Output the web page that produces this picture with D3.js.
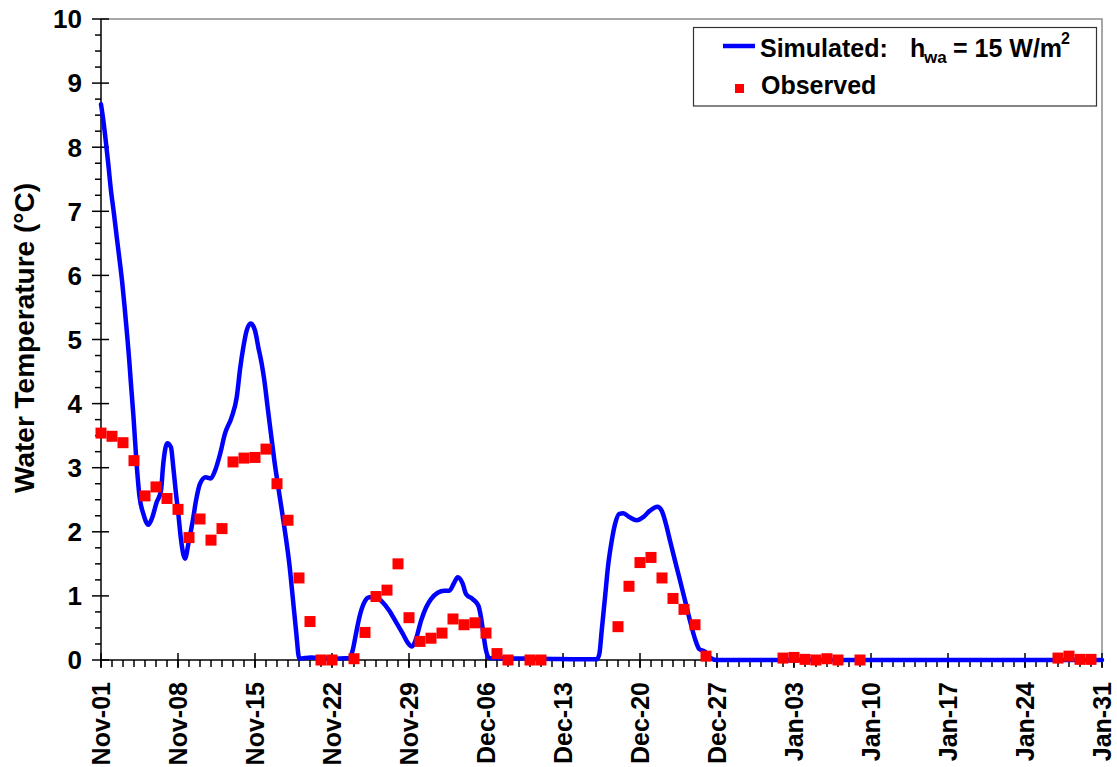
<!DOCTYPE html>
<html>
<head>
<meta charset="utf-8">
<script src="https://cdn.jsdelivr.net/npm/d3@7/dist/d3.min.js"></script>
<style>
  html, body { margin: 0; padding: 0; background: #fff; }
  svg text { font-family: "Liberation Sans", Arial, Helvetica, sans-serif; font-weight: bold; fill: #000; }
</style>
</head>
<body>
<svg id="chart" width="1117" height="767"></svg>
<script>
// Day offsets are counted from Nov-01.
const tickLabels = ["Nov-01","Nov-08","Nov-15","Nov-22","Nov-29","Dec-06","Dec-13",
                    "Dec-20","Dec-27","Jan-03","Jan-10","Jan-17","Jan-24","Jan-31"];
const yTickValues = [0,1,2,3,4,5,6,7,8,9,10];

// Simulated water temperature (h_wa = 15 W/m2)
const simDay = [0,0.21,0.36,0.66,0.91,1.18,1.43,1.66,1.91,2.15,2.39,2.57,2.70,2.95,3.20,3.50,3.85,4.30,4.61,
  5.06,5.45,5.66,6.02,6.36,6.57,6.82,7.03,7.25,7.64,7.94,8.34,8.64,9.00,9.52,9.97,10.36,10.82,11.27,11.88,
  12.34,12.65,12.94,13.24,13.61,14.00,14.30,14.61,14.85,15.15,15.45,15.76,16.21,16.67,17.12,17.43,17.73,18.03,19.09,20.90,
  22.57,22.88,23.18,23.48,23.94,24.39,25.00,25.61,26.21,26.82,27.43,27.88,28.27,28.64,29.09,29.55,30.00,30.61,31.21,31.67,
  32.06,32.43,32.88,33.18,33.79,34.30,34.55,34.76,35.00,35.30,40.00,45.06,45.30,45.52,45.82,46.12,46.43,46.73,47.12,47.48,
  48.03,48.70,49.30,49.91,50.58,50.97,51.36,51.73,52.18,52.64,53.09,53.55,54.00,54.39,54.91,55.36,55.97,91];
const simTemp = [8.67,8.42,8.21,7.74,7.32,6.96,6.60,6.28,5.92,5.50,5.04,4.67,4.36,3.80,3.15,2.55,2.28,2.11,2.20,
  2.46,2.64,3.06,3.38,3.32,3.01,2.59,2.28,1.91,1.58,1.81,2.17,2.49,2.75,2.85,2.83,2.95,3.21,3.53,3.79,
  4.10,4.55,4.88,5.14,5.25,5.14,4.88,4.62,4.36,3.94,3.53,3.11,2.59,2.07,1.50,0.98,0.46,0.02,0.04,0.02,
  0.03,0.15,0.41,0.66,0.90,0.98,0.97,0.90,0.77,0.59,0.41,0.27,0.21,0.33,0.61,0.82,0.95,1.05,1.08,1.08,
  1.19,1.29,1.19,1.03,0.95,0.85,0.66,0.41,0.15,0.03,0.02,0.01,0.09,0.46,0.98,1.50,1.86,2.12,2.28,2.29,
  2.23,2.18,2.23,2.33,2.39,2.33,2.12,1.86,1.55,1.24,0.93,0.61,0.33,0.17,0.13,0.04,0.00,0.00];

// Observed water temperature
const obsDay = [0,1,2,3,4,5,6,7,8,9,10,11,12,13,14,15,16,17,18,19,20,21,23,24,25,26,27,28,29,30,
  31,32,33,34,35,36,37,39,40,47,48,49,50,51,52,53,54,55,62,63,64,65,66,67,69,87,88,89,90];
const obsTemp = [3.54,3.49,3.39,3.11,2.56,2.70,2.52,2.35,1.91,2.20,1.87,2.05,3.09,3.15,3.16,3.29,2.75,2.18,1.28,0.60,
  0,0,0.02,0.43,0.99,1.09,1.50,0.66,0.29,0.34,0.42,0.64,0.55,0.58,0.42,0.10,0,0,0,
  0.52,1.15,1.52,1.60,1.28,0.96,0.79,0.55,0.06,0.03,0.04,0.01,0,0.02,0,0,0.03,0.06,0.01,0.01];

const svg = d3.select("#chart");
const plotL = 101, plotR = 1102, plotT = 19, plotB = 660;

const x = d3.scaleLinear().domain([0, 91]).range([plotL, plotR]);
const y = d3.scaleLinear().domain([0, 10]).range([plotB, plotT]);

// Plot-area frame (top and right edges)
svg.append("path")
  .attr("d", `M${plotL},${plotT}H${plotR}V${plotB}`)
  .attr("fill", "none").attr("stroke", "#8c8c8c").attr("stroke-width", 1.5);

// Y axis: major ticks cross the axis, minor ticks every 0.25 outside
const yAxis = svg.append("g");
yAxis.append("line").attr("x1", plotL).attr("x2", plotL).attr("y1", plotT).attr("y2", plotB)
  .attr("stroke", "#000").attr("stroke-width", 1.5);
const yMinor = d3.range(0, 10.001, 0.25).filter(v => Math.abs(v - Math.round(v)) > 1e-6);
yAxis.selectAll("line.minor").data(yMinor).join("line").attr("class", "minor")
  .attr("x1", plotL - 6).attr("x2", plotL).attr("y1", d => y(d)).attr("y2", d => y(d))
  .attr("stroke", "#000").attr("stroke-width", 1.5);
yAxis.selectAll("line.major").data(yTickValues).join("line").attr("class", "major")
  .attr("x1", plotL - 9).attr("x2", plotL + 8).attr("y1", d => y(d)).attr("y2", d => y(d))
  .attr("stroke", "#000").attr("stroke-width", 1.5);
yAxis.selectAll("text").data(yTickValues).join("text")
  .attr("x", 82).attr("y", d => y(d)).attr("dy", "0.36em")
  .attr("text-anchor", "end").attr("font-size", 26).text(d => d);

svg.append("text")
  .attr("transform", `translate(34,338) rotate(-90)`)
  .attr("text-anchor", "middle").attr("font-size", 28)
  .text("Water Temperature (°C)");

// X axis: daily minor ticks, weekly major ticks
const xAxis = svg.append("g");
xAxis.append("line").attr("x1", plotL).attr("x2", plotR).attr("y1", plotB).attr("y2", plotB)
  .attr("stroke", "#000").attr("stroke-width", 1.5);
xAxis.selectAll("line.minor").data(d3.range(0, 92)).join("line").attr("class", "minor")
  .attr("x1", d => x(d)).attr("x2", d => x(d)).attr("y1", plotB).attr("y2", plotB + 7)
  .attr("stroke", "#000").attr("stroke-width", 1.5);
const majorDays = tickLabels.map((_, i) => i * 7);
xAxis.selectAll("line.major").data(majorDays).join("line").attr("class", "major")
  .attr("x1", d => x(d)).attr("x2", d => x(d)).attr("y1", plotB - 7).attr("y2", plotB + 8)
  .attr("stroke", "#000").attr("stroke-width", 1.5);
xAxis.selectAll("text").data(tickLabels).join("text")
  .attr("transform", (d, i) => `translate(${x(i * 7) + 9},${plotB + 22}) rotate(-90)`)
  .attr("text-anchor", "end").attr("font-size", 25).text(d => d);

// Simulated series
const line = d3.line().x((d, i) => x(simDay[i])).y(d => y(d)).curve(d3.curveMonotoneX);
svg.append("path").datum(simTemp)
  .attr("d", line).attr("fill", "none").attr("stroke", "#0000ff")
  .attr("stroke-width", 4.5).attr("stroke-linejoin", "round").attr("stroke-linecap", "round");

// Observed series
const s = 11;
svg.selectAll("rect.obs").data(obsTemp).join("rect").attr("class", "obs")
  .attr("x", (d, i) => x(obsDay[i]) - s / 2).attr("y", d => y(d) - s / 2)
  .attr("width", s).attr("height", s).attr("fill", "#ff0000");

// Legend
const lg = svg.append("g");
lg.append("rect").attr("x", 693.5).attr("y", 27.5).attr("width", 403).attr("height", 78.5)
  .attr("fill", "#fff").attr("stroke", "#333").attr("stroke-width", 1.2);
lg.append("line").attr("x1", 723).attr("x2", 755).attr("y1", 46).attr("y2", 46)
  .attr("stroke", "#0000ff").attr("stroke-width", 4.5);
lg.append("text").attr("x", 760).attr("y", 57).attr("font-size", 25).text("Simulated:");
lg.append("text").attr("x", 910).attr("y", 57).attr("font-size", 25).text("h");
lg.append("text").attr("x", 924).attr("y", 63).attr("font-size", 17).text("wa");
lg.append("text").attr("x", 953).attr("y", 57).attr("font-size", 25).text("= 15 W/m");
lg.append("text").attr("x", 1061).attr("y", 44).attr("font-size", 16).text("2");
lg.append("rect").attr("x", 735).attr("y", 84).attr("width", 9).attr("height", 9).attr("fill", "#ff0000");
lg.append("text").attr("x", 761).attr("y", 94).attr("font-size", 25).text("Observed");
</script>
</body>
</html>
